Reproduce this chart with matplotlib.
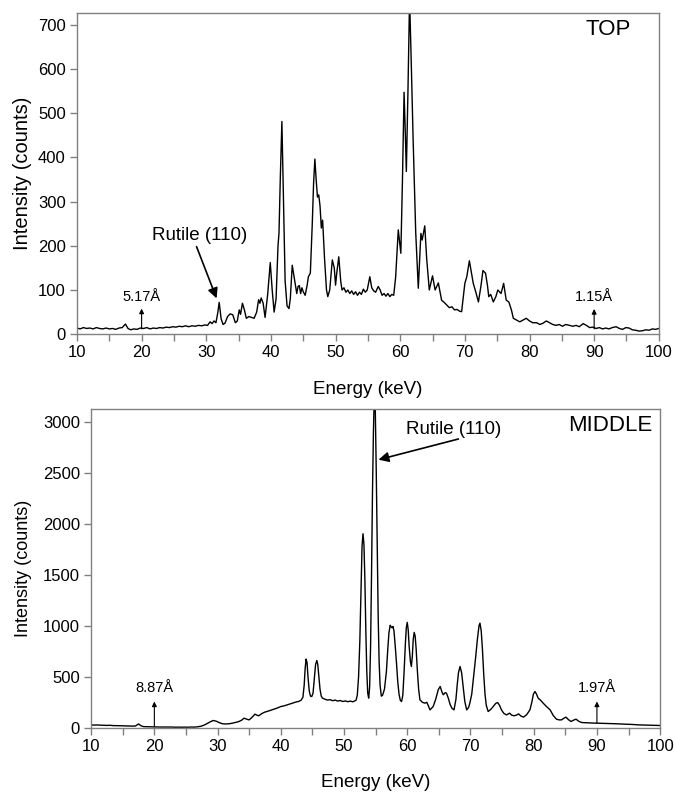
import numpy as np
import matplotlib.pyplot as plt
from matplotlib.ticker import MultipleLocator

plt.rcParams['font.family'] = ['Liberation Sans', 'DejaVu Sans']

# TOP spectrum (energy in keV, intensity in counts)
top_energy = [10.0, 10.5, 11.0, 11.5, 12.0, 12.5, 13.0, 13.5, 14.0, 14.5, 15.0, 15.5, 16.0, 16.5,
              17.0, 17.5, 17.9, 18.3, 18.8, 19.3, 19.8, 20.3, 20.8, 21.3, 21.8, 22.3, 22.8, 23.3,
              23.8, 24.3, 24.8, 25.3, 25.8, 26.3, 26.8, 27.3, 27.8, 28.3, 28.8, 29.3, 29.8, 30.2,
              30.6, 30.9, 31.2, 31.5, 31.8, 32.0, 32.3, 32.6, 32.9, 33.3, 33.7, 34.1, 34.5, 34.8,
              35.1, 35.3, 35.6, 35.9, 36.2, 36.6, 37.0, 37.4, 37.8, 38.1, 38.3, 38.5, 38.8, 39.1,
              39.5, 39.9, 40.2, 40.5, 40.8, 41.1, 41.25, 41.45, 41.7, 41.95, 42.2, 42.5, 42.8, 43.0,
              43.3, 43.6, 43.8, 44.0, 44.2, 44.4, 44.6, 44.8, 45.0, 45.3, 45.6, 45.8, 46.1, 46.4,
              46.6, 46.8, 47.0, 47.2, 47.4, 47.6, 47.8, 48.0, 48.3, 48.6, 48.8, 49.1, 49.5, 49.8,
              50.0, 50.2, 50.5, 50.8, 51.0, 51.3, 51.6, 51.9, 52.2, 52.5, 52.8, 53.1, 53.4, 53.7,
              54.0, 54.3, 54.6, 54.9, 55.3, 55.6, 55.9, 56.2, 56.6, 56.9, 57.2, 57.5, 57.8, 58.1,
              58.4, 58.7, 59.0, 59.3, 59.7, 60.1, 60.35, 60.6, 60.8, 60.95, 61.2, 61.45, 61.7, 62.0,
              62.4, 62.8, 63.2, 63.4, 63.8, 64.1, 64.5, 65.0, 65.4, 65.9, 66.4, 66.8, 67.2, 67.6,
              68.0, 68.4, 68.8, 69.2, 69.5, 70.0, 70.3, 70.7, 71.0, 71.3, 71.7, 72.1, 72.5, 72.8,
              73.2, 73.5, 73.7, 74.0, 74.4, 74.8, 75.1, 75.4, 75.6, 76.0, 76.4, 76.8, 77.2, 77.5,
              78.0, 78.5, 79.0, 79.5, 80.0, 80.5, 81.1, 81.6, 82.1, 82.6, 83.1, 83.6, 84.1, 84.6,
              85.1, 85.6, 86.2, 86.7, 87.2, 87.7, 88.3, 88.8, 89.3, 89.8, 90.3, 90.8, 91.3, 91.8,
              92.3, 92.8, 93.4, 93.9, 94.4, 94.9, 95.4, 95.9, 96.4, 97.0, 97.5, 98.0, 98.5, 99.0,
              99.5, 100.0]
top_counts = [14, 12, 15, 13, 14, 12, 15, 13, 12, 14, 12, 13, 11, 14,
              15, 23, 13, 10, 12, 11, 14, 13, 15, 12, 14, 13, 15, 14,
              16, 15, 17, 16, 18, 17, 19, 17, 19, 18, 20, 19, 21, 20,
              28, 24, 30, 26, 50, 72, 35, 22, 25, 40, 46, 44, 26, 30,
              55, 45, 70, 55, 36, 40, 38, 36, 50, 78, 70, 82, 70, 38,
              90, 162, 100, 50, 80, 200, 228, 350, 481, 300, 120, 64, 58, 80,
              156, 128, 110, 92, 108, 110, 92, 105, 96, 88, 110, 130, 138, 250,
              340, 396, 350, 310, 315, 290, 240, 258, 170, 100, 85, 100, 168, 150,
              111, 140, 175, 120, 100, 105, 95, 100, 92, 98, 90, 96, 88, 95,
              90, 102, 95, 100, 130, 105, 98, 95, 108, 100, 88, 92, 86, 92,
              85, 90, 88, 130, 236, 183, 350, 547, 450, 368, 550, 760, 620, 440,
              230, 104, 228, 213, 245, 170, 100, 132, 100, 116, 77, 72, 66, 60,
              62, 55, 56, 52, 51, 115, 130, 166, 140, 115, 95, 73, 110, 144,
              138, 110, 85, 90, 73, 85, 100, 95, 92, 115, 77, 73, 55, 36,
              32, 28, 32, 36, 30, 26, 26, 22, 25, 30, 26, 22, 20, 22,
              18, 22, 20, 18, 20, 17, 24, 20, 15, 16, 13, 15, 12, 14,
              12, 15, 17, 13, 11, 15, 14, 10, 9, 7, 8, 10, 9, 12,
              11, 13]

# MIDDLE spectrum
mid_energy = [10.0, 10.5, 11.0, 11.5, 12.0, 12.5, 13.0, 13.5, 14.0, 14.5, 15.0, 15.5, 16.0, 16.5,
              17.0, 17.5, 17.9, 18.3, 18.8, 19.3, 19.8, 20.3, 20.8, 21.3, 21.8, 22.3, 22.8, 23.3,
              23.8, 24.3, 24.8, 25.3, 25.8, 26.3, 26.8, 27.3, 27.8, 28.3, 28.8, 29.3, 29.8, 30.3,
              30.8, 31.3, 31.8, 32.3, 32.8, 33.3, 33.8, 34.2, 34.6, 35.0, 35.4, 35.9, 36.2, 36.5,
              37.0, 37.5, 37.8, 38.3, 38.8, 39.4, 40.0, 40.5, 41.0, 41.5, 42.0, 42.5, 42.8, 43.2,
              43.5, 43.7, 43.85, 44.0, 44.15, 44.3, 44.5, 44.7, 44.9, 45.1, 45.3, 45.5, 45.7, 45.85,
              46.0, 46.2, 46.4, 46.6, 47.0, 47.4, 47.8, 48.2, 48.6, 49.0, 49.4, 49.8, 50.2, 50.6,
              51.0, 51.4, 51.9, 52.1, 52.3, 52.5, 52.7, 52.85, 53.0, 53.15, 53.3, 53.45, 53.6, 53.75,
              53.9, 54.05, 54.2, 54.35, 54.5, 54.65, 54.8, 54.95, 55.1, 55.25, 55.4, 55.55, 55.7, 55.9,
              56.1, 56.4, 56.7, 56.9, 57.1, 57.3, 57.45, 57.6, 57.75, 57.9, 58.1, 58.3, 58.5, 58.7,
              58.9, 59.1, 59.3, 59.5, 59.7, 59.85, 60.0, 60.15, 60.3, 60.5, 60.65, 60.8, 60.95, 61.1,
              61.25, 61.4, 61.6, 61.8, 62.0, 62.4, 62.8, 63.1, 63.6, 64.1, 64.5, 64.9, 65.2, 65.5,
              65.7, 66.0, 66.2, 66.5, 66.8, 67.1, 67.4, 67.7, 67.9, 68.1, 68.35, 68.6, 68.85, 69.1,
              69.4, 69.7, 69.9, 70.2, 70.5, 70.8, 71.1, 71.35, 71.5, 71.7, 71.9, 72.1, 72.3, 72.5,
              72.8, 73.2, 73.6, 74.0, 74.3, 74.6, 74.9, 75.3, 75.7, 76.2, 76.5, 76.9, 77.3, 77.6,
              78.0, 78.4, 78.9, 79.4, 79.7, 79.95, 80.2, 80.45, 80.7, 81.1, 81.5, 82.0, 82.6, 83.1,
              83.6, 84.0, 84.4, 84.8, 85.1, 85.5, 85.9, 86.3, 86.7, 87.1, 87.6, 88.2, 88.8, 89.4,
              90.0, 90.6, 91.2, 91.8, 92.4, 93.0, 93.6, 94.2, 94.8, 95.4, 96.0, 96.6, 97.2, 97.8,
              98.4, 99.0, 99.5, 100.0]
mid_counts = [29, 27, 28, 26, 25, 24, 25, 22, 22, 21, 20, 19, 18, 17,
              18, 38, 20, 12, 11, 10, 9, 9, 8, 8, 7, 7, 8, 6,
              7, 6, 7, 6, 8, 7, 10, 15, 25, 40, 58, 72, 65, 50,
              40, 38, 40, 45, 52, 60, 75, 95, 85, 78, 100, 134, 125, 118,
              140, 155, 160, 170, 180, 193, 209, 215, 225, 235, 245, 255, 258, 270,
              300, 420, 580, 673, 640, 500, 360, 310, 307, 340, 480, 620, 660, 620,
              520, 380, 310, 291, 280, 272, 276, 266, 272, 262, 268, 258, 264, 256,
              262, 255, 270, 320, 500, 850, 1400, 1780, 1902, 1800, 1450, 950, 550, 340,
              291, 400, 800, 1500, 2300, 2900, 3300, 3100, 2500, 1800, 1100, 650, 420, 310,
              320, 380, 550, 750, 930, 1005, 990, 980, 993, 950, 800, 634, 450, 330,
              270, 258, 320, 550, 820, 980, 1033, 960, 800, 650, 601, 700, 870, 935,
              900, 780, 560, 380, 275, 250, 242, 250, 176, 209, 280, 373, 405, 350,
              324, 345, 340, 290, 225, 190, 176, 280, 420, 540, 601, 540, 400, 260,
              176, 200, 242, 330, 500, 680, 870, 1000, 1026, 950, 760, 520, 330, 220,
              160, 180, 209, 240, 248, 220, 176, 140, 127, 144, 125, 118, 125, 137,
              115, 105, 130, 176, 250, 330, 356, 330, 291, 270, 242, 210, 176, 120,
              85, 78, 78, 95, 105, 80, 62, 75, 85, 65, 52, 50, 48, 47,
              46, 45, 44, 42, 41, 40, 38, 36, 35, 34, 31, 29, 28, 26,
              26, 25, 24, 23]

GREY = '#808080'


def style_axes(ax, ymax, ystep):
    ax.set_xlim(10, 100)
    ax.set_ylim(0, ymax)
    ax.xaxis.set_major_locator(MultipleLocator(10))
    ax.xaxis.set_minor_locator(MultipleLocator(5))
    ax.yaxis.set_major_locator(MultipleLocator(ystep))
    for s in ax.spines.values():
        s.set_color(GREY)
        s.set_linewidth(1.0)
    ax.tick_params(axis='both', which='both', direction='out', color=GREY,
                   length=5, width=1.0, labelsize=12, pad=3)
    ax.set_xlabel('Energy (keV)', fontsize=13.5)
    ax.xaxis.set_label_coords(0.5, -0.145)


def mark(ax, x, y0, y1, ytext, label):
    ax.annotate('', xy=(x, y1), xytext=(x, y0),
                arrowprops=dict(arrowstyle='-|>', color='k', lw=0.8, mutation_scale=7,
                                shrinkA=0, shrinkB=0))
    ax.text(x, ytext, label, ha='center', va='center', fontsize=10.5)


fig = plt.figure(figsize=(6.75, 7.92), dpi=100)
ax1 = fig.add_axes([0.114, 0.578, 0.862, 0.406])
ax2 = fig.add_axes([0.135, 0.081, 0.843, 0.403])

# top panel
ax1.plot(top_energy, top_counts, color='k', lw=1.0)
style_axes(ax1, 727, 100)
ax1.set_ylabel('Intensity (counts)', fontsize=14.5)
ax1.yaxis.set_label_coords(-0.077, 0.5)
ax1.text(92.2, 689, 'TOP', ha='center', va='center', fontsize=16)
mark(ax1, 20, 12, 58, 84, '5.17Å')
mark(ax1, 90, 12, 57, 84, '1.15Å')
ax1.annotate('', xy=(31.6, 81), xytext=(28.5, 198),
             arrowprops=dict(arrowstyle='-|>', color='k', lw=1.2, mutation_scale=15,
                             shrinkA=0, shrinkB=0))
ax1.text(29.0, 224, 'Rutile (110)', ha='center', va='center', fontsize=13.5)

# middle panel
ax2.plot(mid_energy, mid_counts, color='k', lw=1.0)
style_axes(ax2, 3127, 500)
ax2.set_ylabel('Intensity (counts)', fontsize=13)
ax2.yaxis.set_label_coords(-0.104, 0.5)
ax2.text(92.1, 2961, 'MIDDLE', ha='center', va='center', fontsize=16)
mark(ax2, 20, 10, 258, 389, '8.87Å')
mark(ax2, 90, 46, 258, 389, '1.97Å')
ax2.annotate('', xy=(55.45, 2627), xytext=(68.1, 2830),
             arrowprops=dict(arrowstyle='-|>', color='k', lw=1.2, mutation_scale=15,
                             shrinkA=0, shrinkB=0))
ax2.text(67.3, 2922, 'Rutile (110)', ha='center', va='center', fontsize=13.5)

fig.savefig('out.png', dpi=100)
